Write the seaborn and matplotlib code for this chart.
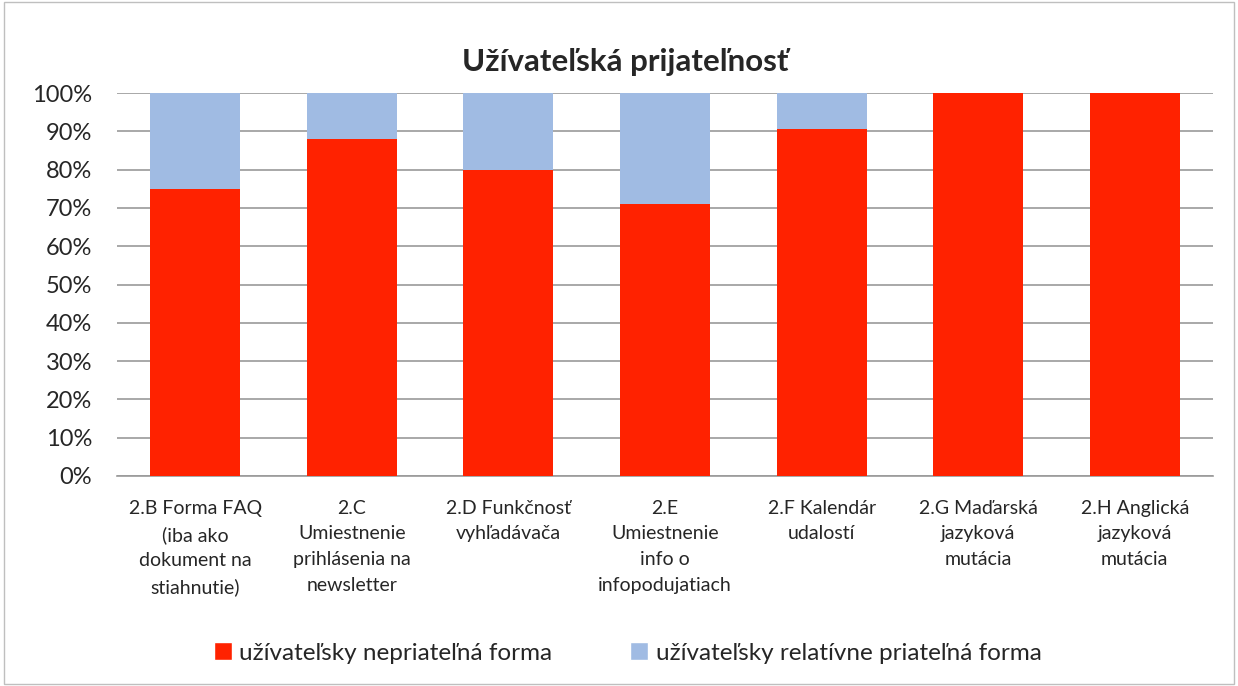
import numpy as np
import pandas as pd
import matplotlib
matplotlib.use('Agg')
import matplotlib.pyplot as plt
import seaborn as sns
from matplotlib.patches import Patch, Rectangle

categories = [
    '2.B Forma FAQ\n(iba ako\ndokument na\nstiahnutie)',
    '2.C\nUmiestnenie\nprihlásenia na\nnewsletter',
    '2.D Funkčnosť\nvyhľadávača',
    '2.E\nUmiestnenie\ninfo o\ninfopodujatiach',
    '2.F Kalendár\nudalostí',
    '2.G Maďarská\njazyková\nmutácia',
    '2.H Anglická\njazyková\nmutácia',
]
nepriatelna = [75, 88, 80, 71, 90.5, 100, 100]
priatelna = [25, 12, 20, 29, 9.5, 0, 0]

red = '#FF2200'
blue = '#A0BBE3'

sns.set_style('white')
plt.rcParams['font.family'] = ['Lato', 'DejaVu Sans']

df = pd.DataFrame({'cat': categories, 'red': nepriatelna,
                   'total': np.array(nepriatelna) + np.array(priatelna)})

fig = plt.figure(figsize=(12.38, 6.86), dpi=100)
ax = fig.add_axes([117 / 1238, 1 - 476 / 686, 1096 / 1238, 383 / 686])

# blue = full stack, red drawn over it
sns.barplot(data=df, x='cat', y='total', color=blue, width=0.575,
            saturation=1, linewidth=0, ax=ax, zorder=2)
sns.barplot(data=df, x='cat', y='red', color=red, width=0.575,
            saturation=1, linewidth=0, ax=ax, zorder=3)

ax.set_ylim(0, 100)
ax.set_xlim(-0.5, len(categories) - 0.5)
ax.set_yticks(range(0, 101, 10))
ax.set_yticklabels([f'{v}%' for v in range(0, 101, 10)], fontsize=17)
ax.tick_params(axis='x', labelsize=14, length=0, pad=17)
ax.tick_params(axis='y', length=0, pad=18)
ax.set_xlabel('')
ax.set_ylabel('')
ax.yaxis.grid(True, color='#9A9A9A', linewidth=1.2, zorder=0)
ax.set_axisbelow(True)
for s in ['top', 'right', 'left']:
    ax.spines[s].set_visible(False)
ax.spines['bottom'].set_color('#9A9A9A')
ax.spines['bottom'].set_linewidth(1.2)
for lbl in ax.get_xticklabels():
    lbl.set_linespacing(1.62)
    lbl.set_verticalalignment('top')

fig.suptitle('Užívateľská prijateľnosť', x=0.505, y=1 - 62 / 686, va='center',
             fontsize=22.5, fontweight='bold')

handles = [Patch(facecolor=red, label='užívateľsky nepriateľná forma'),
           Patch(facecolor=blue, label='užívateľsky relatívne priateľná forma')]
fig.legend(handles=handles, loc='center', bbox_to_anchor=(0.507, 1 - 653 / 686),
           ncol=2, frameon=False, fontsize=17.5, handlelength=0.75,
           handleheight=0.75, handletextpad=0.3, columnspacing=3.2)

fig.patches.append(Rectangle((0.003, 0.003), 0.994, 0.994, transform=fig.transFigure,
                             fill=False, edgecolor='#BFBFBF', linewidth=1))

fig.savefig('out.png', dpi=100)
